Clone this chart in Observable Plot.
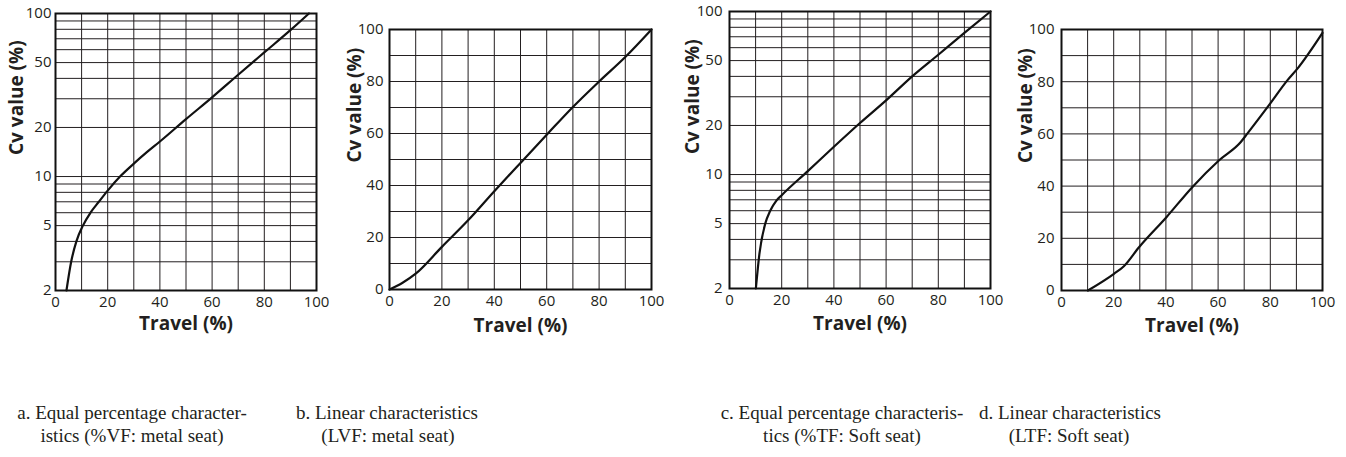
<!DOCTYPE html>
<html>
<head>
<meta charset="utf-8">
<script src="https://cdn.jsdelivr.net/npm/d3@7"></script>
<script src="https://cdn.jsdelivr.net/npm/@observablehq/plot@0.6"></script>
<style>
  html, body { margin: 0; padding: 0; background: #fff; }
  #wrap { position: relative; width: 1346px; height: 457px; overflow: hidden; background: #fff; }
  #wrap svg { position: absolute; top: 0; }
  .cap { position: absolute; font-family: "Liberation Serif", "DejaVu Serif", serif; font-size: 19px; line-height: 23px; color: #231f20; white-space: nowrap; transform: translateX(-50%); }
</style>
</head>
<body>
<div id="wrap"></div>
<script>
// ---- data ----
const travelA = [4.2, 6, 8, 10.5, 13.4, 16.6, 20, 25, 30, 35, 40, 50, 60, 70, 80, 90, 97.1];
const cvA     = [2, 3, 4, 5, 6, 7, 8.2, 10.1, 12, 14.1, 16.4, 22.5, 30.6, 42.1, 57.7, 79, 100];

const travelB = [0, 5, 10, 20, 30, 40, 50, 60, 70, 80, 90, 100];
const cvB     = [0, 2.6, 6.1, 16.4, 26.6, 37.8, 48.7, 59.5, 70.2, 80, 89.4, 100];

const travelC = [10.1, 11.5, 13.7, 15.6, 17.9, 20.1, 30, 40, 50, 60, 70, 80, 90, 100];
const cvC     = [2, 3.3, 5.0, 6.0, 6.9, 7.5, 10.5, 14.8, 20.7, 28.5, 40, 54.3, 74, 100];

const travelD = [10.1, 20.1, 23.9, 29.7, 40.2, 50.1, 60.4, 68.7, 71.2, 79.5, 86.6, 90.4, 100];
const cvD     = [0, 6.4, 9.3, 16.6, 28.1, 39.6, 49.9, 56.9, 60.1, 71, 80.6, 85, 98.7];

const xTicks = [0, 20, 40, 60, 80, 100];
const xGrid = [0, 10, 20, 30, 40, 50, 60, 70, 80, 90, 100];
const yTicksLog = [2, 5, 10, 20, 50, 100];
const yGridLog = [2, 3, 4, 5, 6, 7, 8, 9, 10, 20, 30, 40, 50, 60, 70, 80, 90, 100];
const yTicksLin = [0, 20, 40, 60, 80, 100];
const yGridLin = [0, 10, 20, 30, 40, 50, 60, 70, 80, 90, 100];

const xLabel = "Travel (%)";
const yLabel = "Cv value (%)";

const captions = [
  ["a. Equal percentage character-", "istics (%VF: metal seat)"],
  ["b. Linear characteristics", "(LVF: metal seat)"],
  ["c. Equal percentage characteris-", "tics (%TF: Soft seat)"],
  ["d. Linear characteristics", "(LTF: Soft seat)"]
];

// ---- layout ----
const ink = "#231f20";
const panels = [
  {left: 0,    width: 330, mt: 13, mb: 50, ml: 55, mr: 14, log: true,  tx: travelA, ty: cvA, ypad: 4, ldx: -39, ldy: 3, tdy: 33},
  {left: 330,  width: 340, mt: 29, mb: 51, ml: 59, mr: 19, log: false, tx: travelB, ty: cvB, ypad: 6, ldx: -35, ldy: 3, tdy: 36},
  {left: 670,  width: 340, mt: 11, mb: 52, ml: 59, mr: 20, log: true,  tx: travelC, ty: cvC, ypad: 7, ldx: -37, ldy: 4, tdy: 35},
  {left: 1000, width: 346, mt: 29, mb: 50, ml: 61, mr: 24, log: false, tx: travelD, ty: cvD, ypad: 7, ldx: -36, ldy: 3, tdy: 35}
];
const capPos = [[132, 132], [387, 388], [842, 842], [1070, 1069]];

const wrap = document.getElementById("wrap");
const fmt = d => String(d);

panels.forEach((p, i) => {
  const data = p.tx.map((t, k) => ({travel: t, cv: p.ty[k]}));
  const yTicks = p.log ? yTicksLog : yTicksLin;
  const svg = Plot.plot({
    width: p.width,
    height: 340,
    marginTop: p.mt,
    marginBottom: p.mb,
    marginLeft: p.ml,
    marginRight: p.mr,
    style: {fontFamily: "'Open Sans', sans-serif", fontSize: "15px", color: ink, background: "transparent", overflow: "visible"},
    x: {domain: [0, 100], ticks: xTicks, tickFormat: fmt},
    y: p.log ? {type: "log", domain: [2, 100], ticks: yTicks, tickFormat: fmt} : {domain: [0, 100], ticks: yTicks, tickFormat: fmt},
    marks: [
      Plot.ruleX(xGrid, {x: d => d, stroke: ink, strokeWidth: 1}),
      Plot.ruleY(p.log ? yGridLog : yGridLin, {y: d => d, stroke: ink, strokeWidth: 1}),
      Plot.line(data, {x: "travel", y: "cv", curve: "monotone-x", stroke: "#111", strokeWidth: 2.2}),
      Plot.frame({stroke: "#111", strokeWidth: 2}),
      Plot.axisX({ticks: xTicks, tickFormat: fmt, tickSize: 0, tickPadding: 6, label: null, fill: ink}),
      Plot.axisY({ticks: yTicks, tickFormat: fmt, tickSize: 0, tickPadding: p.ypad, label: null, fill: ink}),
      Plot.text([xLabel], {frameAnchor: "bottom", dy: p.tdy, lineAnchor: "middle", fontWeight: "bold", fontSize: 19, fill: ink}),
      Plot.text([yLabel], {frameAnchor: "left", rotate: -90, dx: p.ldx, dy: p.ldy, lineAnchor: "middle", fontWeight: "bold", fontSize: 19, fill: ink})
    ]
  });
  svg.style.left = p.left + "px";
  wrap.appendChild(svg);

  const tops = [400.5, 423.5];
  captions[i].forEach((line, j) => {
    const d = document.createElement("div");
    d.className = "cap";
    d.textContent = line;
    d.style.left = capPos[i][j] + "px";
    d.style.top = tops[j] + "px";
    wrap.appendChild(d);
  });
});
</script>
</body>
</html>
